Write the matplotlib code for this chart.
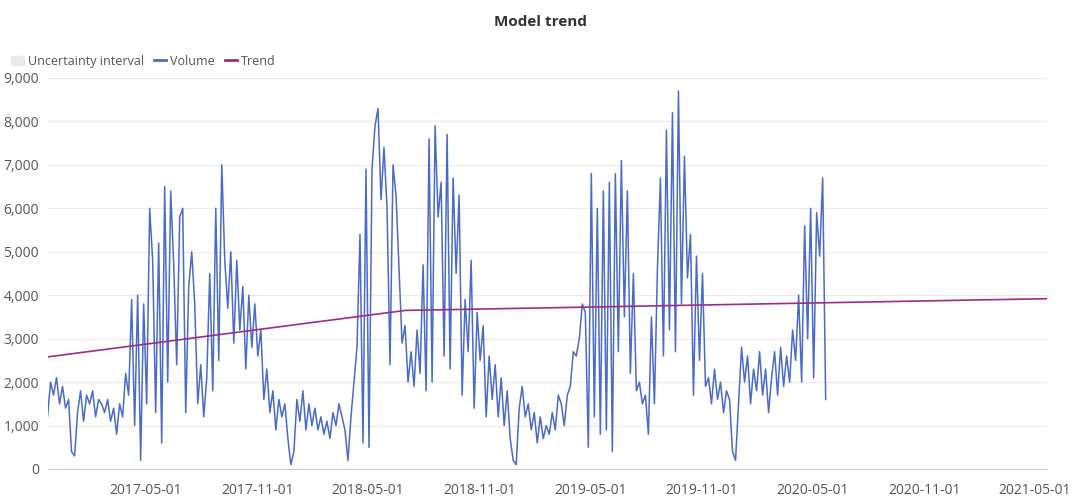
import matplotlib
matplotlib.use("Agg")
import matplotlib.pyplot as plt
import matplotlib.dates as mdates
from matplotlib.patches import Patch
from matplotlib.lines import Line2D
from matplotlib.ticker import FuncFormatter
import pandas as pd

plt.rcParams['font.family'] = 'Open Sans'

# --- datos (aprox. cada 5 dias) ---
fecha_inicio = '2016-11-20'
fecha_fin = '2020-05-22'
volumen = [
    1200, 2000, 1700, 2100, 1500, 1900, 1400, 1600, 400, 300,
    1300, 1800, 1100, 1700, 1500, 1800, 1200, 1600, 1500, 1300,
    1600, 1100, 1400, 800, 1500, 1200, 2200, 1700, 3900, 1000,
    4000, 200, 3800, 1500, 6000, 4800, 1300, 5200, 600, 6500,
    2000, 6400, 4700, 2400, 5800, 6000, 1300, 4200, 5000, 3800,
    1500, 2400, 1200, 2100, 4500, 1800, 6000, 2500, 7000, 4800,
    3700, 5000, 2900, 4800, 3200, 4200, 2300, 4000, 2800, 3800,
    2600, 3200, 1600, 2300, 1300, 1800, 900, 1600, 1200, 1500,
    700, 100, 400, 1600, 1100, 1800, 900, 1500, 1000, 1400,
    900, 1200, 800, 1100, 700, 1300, 1000, 1500, 1200, 900,
    200, 1200, 2000, 2800, 5400, 600, 6900, 500, 6900, 7900,
    8300, 6200, 7400, 6000, 2400, 7000, 6300, 4600, 2900, 3300,
    2000, 2700, 1900, 3200, 2200, 4700, 1800, 7600, 2000, 7900,
    5800, 6600, 2600, 7700, 2300, 6700, 4500, 6300, 1700, 3900,
    2700, 4800, 1400, 3600, 2500, 3300, 1200, 2600, 1600, 2400,
    1200, 2100, 1000, 1800, 700, 200, 100, 1400, 1900, 1200,
    1500, 900, 1300, 600, 1200, 700, 1000, 800, 1300, 900,
    1700, 1500, 1000, 1700, 1900, 2700, 2600, 3000, 3800, 3600,
    500, 6800, 1200, 6000, 800, 6400, 900, 6600, 400, 6800,
    2700, 7100, 3500, 6400, 2200, 4500, 1800, 2000, 1500, 1700,
    800, 3500, 1500, 4600, 6700, 2600, 7800, 3200, 8200, 2700,
    8700, 3800, 7200, 4400, 5400, 1700, 4900, 2500, 4500, 1900,
    2100, 1500, 2300, 1600, 2000, 1300, 1800, 1600, 400, 200,
    1500, 2800, 2000, 2600, 1500, 2300, 1800, 2700, 1700, 2300,
    1300, 2100, 2700, 1700, 2800, 1900, 2600, 2000, 3200, 2500,
    4000, 2000, 5600, 3000, 6000, 2100, 5900, 4900, 6700, 1600,
]
tendencia_fechas = ['2016-11-20', '2018-07-01', '2021-05-20']
tendencia_valores = [2580, 3650, 3920]
ticks_x = ['2017-05-01', '2017-11-01', '2018-05-01', '2018-11-01',
           '2019-05-01', '2019-11-01', '2020-05-01', '2020-11-01', '2021-05-01']

fechas = pd.date_range(fecha_inicio, fecha_fin, periods=len(volumen))

fig = plt.figure(figsize=(10.8, 5), dpi=100)
ax = fig.add_axes([0.044, 0.062, 0.925, 0.782])

ax.plot(fechas, volumen, color='#4a6bc7', lw=1.1)
ax.plot(pd.to_datetime(tendencia_fechas), tendencia_valores, color='#9b2d86', lw=1.2)

ax.set_xlim(pd.Timestamp('2016-11-20'), pd.Timestamp('2021-05-20'))
ax.set_ylim(0, 9000)
ax.set_yticks(range(0, 9001, 1000))
ax.yaxis.set_major_formatter(FuncFormatter(lambda v, p: f'{int(v):,}'))
ax.set_xticks(pd.to_datetime(ticks_x))
ax.xaxis.set_major_formatter(mdates.DateFormatter('%Y-%m-%d'))

ax.grid(axis='y', color='#ebebeb', lw=0.8)
ax.set_axisbelow(True)
for s in ['top', 'right', 'left']:
    ax.spines[s].set_visible(False)
ax.spines['bottom'].set_color('#cccccc')
ax.tick_params(colors='#555555', labelsize=10, length=0)
ax.tick_params(axis='y', pad=6)
ax.tick_params(axis='x', pad=10)

fig.suptitle('Model trend', fontsize=11, fontweight='bold', color='#333333', y=0.97)

handles = [Patch(color='#e8eaf0', label='Uncertainty interval'),
           Line2D([0], [0], color='#4a6bc7', lw=2, label='Volume'),
           Line2D([0], [0], color='#9b2d86', lw=2, label='Trend')]
fig.legend(handles=handles, loc='upper left', bbox_to_anchor=(0.0, 0.913), ncol=3,
           frameon=False, fontsize=9, handlelength=1.0, handletextpad=0.3,
           columnspacing=0.8, labelcolor='#555555')

fig.savefig('out.png', dpi=100)
